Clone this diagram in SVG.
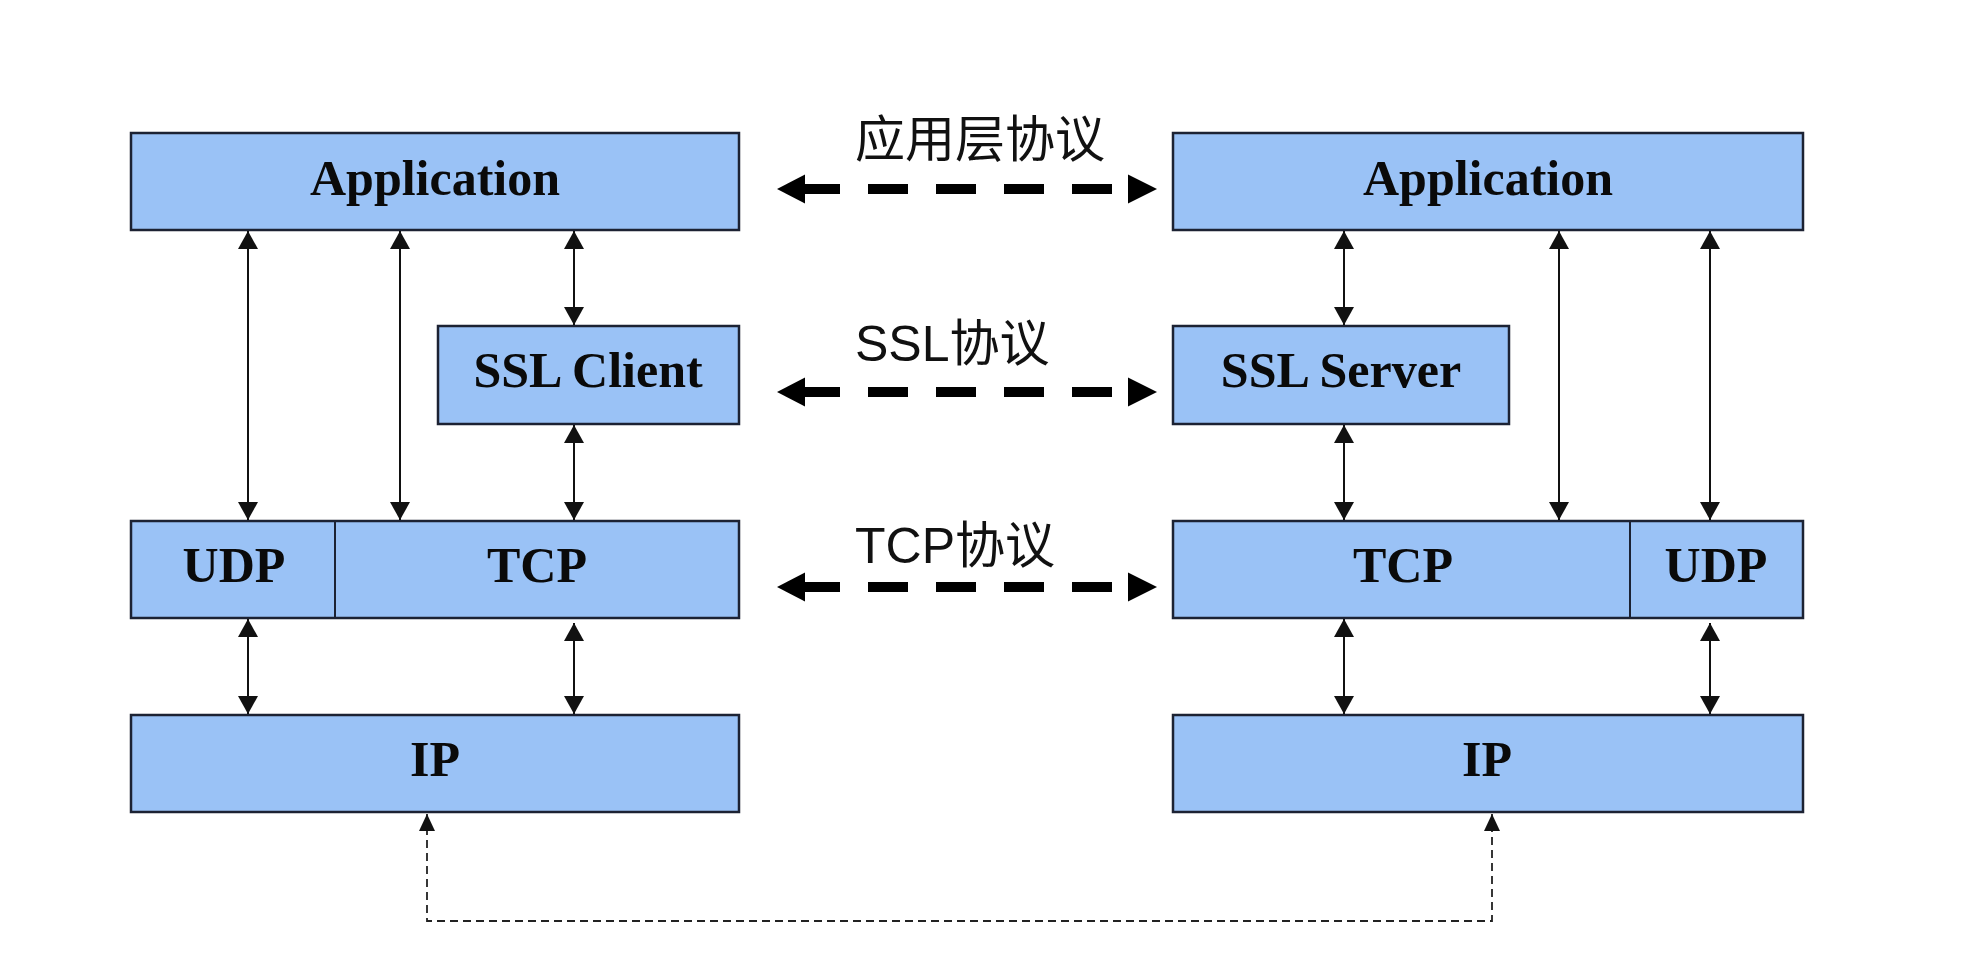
<svg xmlns="http://www.w3.org/2000/svg" width="1972" height="968" viewBox="0 0 1972 968">
<style>
.box{fill:#9ac2f6;stroke:#1c2233;stroke-width:2.5}
.div{stroke:#1c2233;stroke-width:2}
.lbl{font-family:"Liberation Serif","Times New Roman",serif;font-weight:bold;font-size:50px;fill:#0a0a0a;text-anchor:middle}
.proto{font-family:"Liberation Sans","Noto Sans CJK SC",sans-serif;font-size:50px;fill:#111}
.v{stroke:#111;stroke-width:2;fill:none;marker-start:url(#ah);marker-end:url(#ah)}
.big{stroke:#000;stroke-width:10;fill:none;stroke-dasharray:40 28;stroke-dashoffset:5}
.thin{stroke:#222;stroke-width:1.8;fill:none;stroke-dasharray:8 5;marker-start:url(#ah2);marker-end:url(#ah2)}
</style>
<defs>
<marker id="ah" markerUnits="userSpaceOnUse" markerWidth="18" markerHeight="20" refX="18" refY="10" orient="auto-start-reverse"><path d="M0,0 L18,10 L0,20 Z" fill="#111"/></marker>
<marker id="ah2" markerUnits="userSpaceOnUse" markerWidth="17" markerHeight="16" refX="17" refY="8" orient="auto-start-reverse"><path d="M0,0 L17,8 L0,16 Z" fill="#111"/></marker>
</defs>
<rect width="1972" height="968" fill="#ffffff"/>

<g id="left-app"><rect class="box" x="131" y="133" width="608" height="97"/><text class="lbl" x="435" y="195">Application</text></g>
<g id="ssl-client"><rect class="box" x="438" y="326" width="301" height="98"/><text class="lbl" x="588" y="387">SSL Client</text></g>
<g id="left-transport"><rect class="box" x="131" y="521" width="608" height="97"/><line class="div" x1="335" y1="521" x2="335" y2="618"/><text class="lbl" x="234" y="582">UDP</text><text class="lbl" x="537" y="582">TCP</text></g>
<g id="left-ip"><rect class="box" x="131" y="715" width="608" height="97"/><text class="lbl" x="435" y="776">IP</text></g>

<g id="right-app"><rect class="box" x="1173" y="133" width="630" height="97"/><text class="lbl" x="1488" y="195">Application</text></g>
<g id="ssl-server"><rect class="box" x="1173" y="326" width="336" height="98"/><text class="lbl" x="1341" y="387">SSL Server</text></g>
<g id="right-transport"><rect class="box" x="1173" y="521" width="630" height="97"/><line class="div" x1="1630" y1="521" x2="1630" y2="618"/><text class="lbl" x="1403" y="582">TCP</text><text class="lbl" x="1716" y="582">UDP</text></g>
<g id="right-ip"><rect class="box" x="1173" y="715" width="630" height="97"/><text class="lbl" x="1487" y="776">IP</text></g>

<g id="labels">
<text class="proto" x="855" y="157">应用层协议</text>
<text class="proto" x="855" y="361">SSL协议</text>
<text class="proto" x="855" y="563">TCP协议</text>
</g>

<g id="connectors">
<line class="v" x1="248" y1="231" x2="248" y2="520"/>
<line class="v" x1="400" y1="231" x2="400" y2="520"/>
<line class="v" x1="574" y1="231" x2="574" y2="325"/>
<line class="v" x1="574" y1="425" x2="574" y2="520"/>
<line class="v" x1="248" y1="619" x2="248" y2="714"/>
<line class="v" x1="574" y1="623" x2="574" y2="714"/>

<line class="v" x1="1344" y1="231" x2="1344" y2="325"/>
<line class="v" x1="1344" y1="425" x2="1344" y2="520"/>
<line class="v" x1="1559" y1="231" x2="1559" y2="520"/>
<line class="v" x1="1710" y1="231" x2="1710" y2="520"/>
<line class="v" x1="1344" y1="619" x2="1344" y2="714"/>
<line class="v" x1="1710" y1="623" x2="1710" y2="714"/>

<line class="big" x1="805" y1="189" x2="1128" y2="189"/>
<polygon points="777,189 805,174.5 805,203.5" fill="#000"/>
<polygon points="1157,189 1128,174.5 1128,203.5" fill="#000"/>
<line class="big" x1="805" y1="392" x2="1128" y2="392"/>
<polygon points="777,392 805,377.5 805,406.5" fill="#000"/>
<polygon points="1157,392 1128,377.5 1128,406.5" fill="#000"/>
<line class="big" x1="805" y1="587" x2="1128" y2="587"/>
<polygon points="777,587 805,572.5 805,601.5" fill="#000"/>
<polygon points="1157,587 1128,572.5 1128,601.5" fill="#000"/>

<path class="thin" d="M427,814 L427,921 L1492,921 L1492,814"/>
</g>
</svg>
